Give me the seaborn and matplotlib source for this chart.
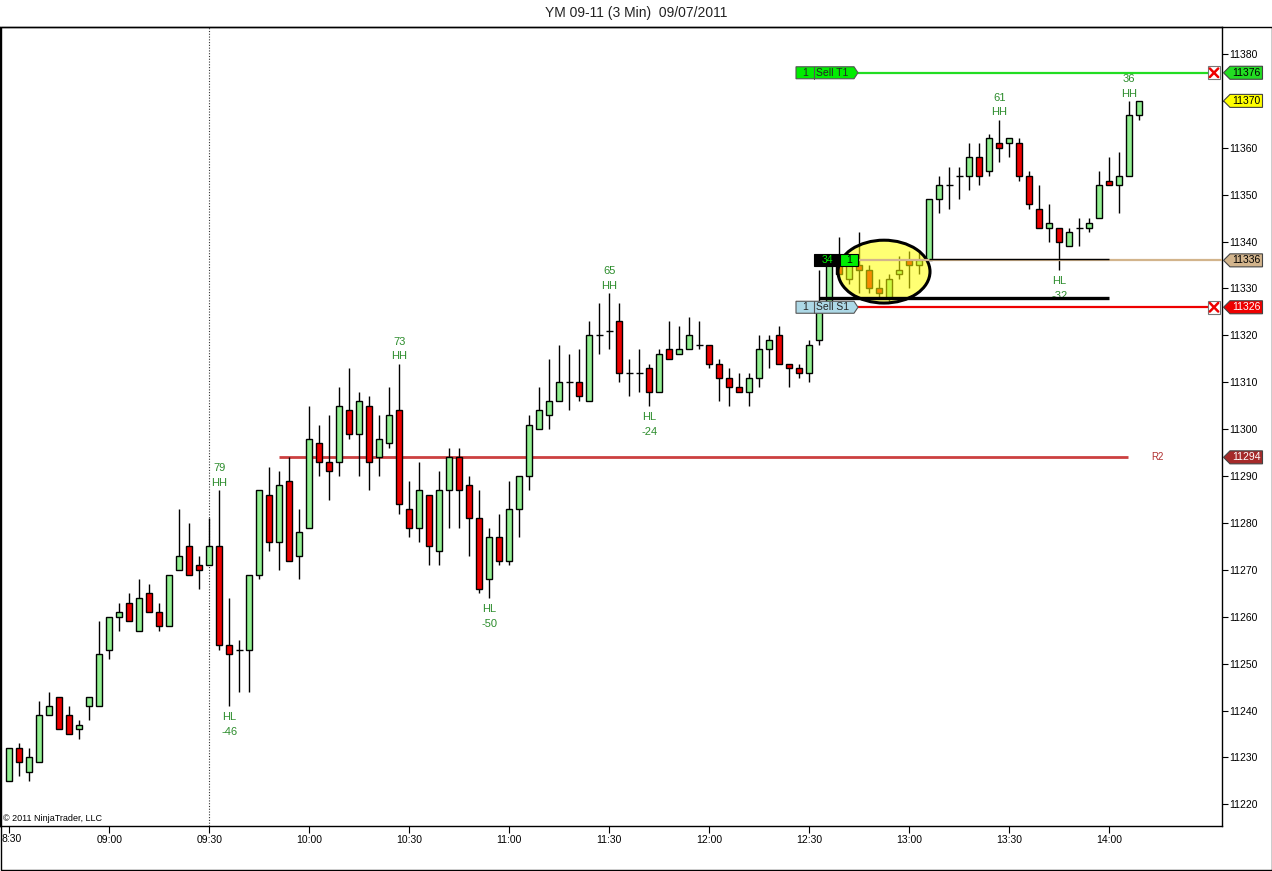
import numpy as np
import pandas as pd
import matplotlib
matplotlib.use("Agg")
import matplotlib.pyplot as plt
import seaborn as sns
from matplotlib.patches import Polygon, Rectangle, Ellipse
from matplotlib.transforms import blended_transform_factory

# ---------------- data ----------------
open_ = [11225, 11232, 11227, 11229, 11239, 11243, 11239, 11236, 11241, 11241,
         11253, 11260, 11263, 11257, 11265, 11261, 11258, 11270, 11275, 11271,
         11271, 11275, 11254, 11253, 11253, 11269, 11286, 11276, 11289, 11273,
         11279, 11297, 11293, 11293, 11304, 11299, 11305, 11294, 11297, 11304,
         11283, 11279, 11286, 11274, 11287, 11294, 11288, 11281, 11268, 11277,
         11272, 11283, 11290, 11300, 11303, 11306, 11310, 11310, 11306, 11320,
         11321, 11323, 11312, 11312, 11313, 11308, 11317, 11316, 11317, 11318,
         11318, 11314, 11311, 11309, 11308, 11311, 11317, 11320, 11314, 11313,
         11312, 11319, 11326, 11335, 11332, 11335, 11334, 11330, 11328, 11333,
         11336, 11335, 11336, 11349, 11352, 11354, 11354, 11358, 11355, 11361,
         11361, 11361, 11354, 11347, 11343, 11343, 11339, 11343, 11343, 11345,
         11353, 11352, 11354, 11367]
high = [11232, 11233, 11232, 11242, 11244, 11243, 11241, 11238, 11243, 11259,
        11260, 11263, 11265, 11268, 11267, 11263, 11269, 11283, 11280, 11273,
        11281, 11287, 11264, 11255, 11269, 11287, 11292, 11291, 11294, 11283,
        11305, 11301, 11303, 11309, 11313, 11308, 11307, 11303, 11309, 11314,
        11289, 11293, 11286, 11291, 11296, 11296, 11290, 11287, 11279, 11282,
        11289, 11290, 11303, 11309, 11315, 11318, 11316, 11317, 11323, 11327,
        11329, 11327, 11315, 11317, 11314, 11317, 11323, 11322, 11324, 11323,
        11318, 11315, 11313, 11312, 11312, 11320, 11320, 11322, 11314, 11314,
        11319, 11334, 11336, 11341, 11336, 11342, 11335, 11332, 11333, 11337,
        11338, 11338, 11349, 11354, 11356, 11356, 11361, 11361, 11363, 11366,
        11362, 11362, 11355, 11352, 11348, 11343, 11343, 11345, 11345, 11355,
        11358, 11359, 11370, 11370]
low = [11225, 11226, 11225, 11229, 11239, 11236, 11235, 11234, 11238, 11241,
       11251, 11257, 11259, 11257, 11261, 11257, 11258, 11270, 11269, 11266,
       11271, 11253, 11241, 11244, 11244, 11268, 11274, 11270, 11272, 11268,
       11279, 11290, 11285, 11290, 11298, 11290, 11287, 11290, 11296, 11282,
       11277, 11276, 11271, 11271, 11279, 11279, 11273, 11265, 11264, 11271,
       11271, 11277, 11287, 11300, 11300, 11306, 11304, 11306, 11306, 11316,
       11317, 11310, 11307, 11308, 11305, 11308, 11315, 11316, 11317, 11317,
       11313, 11306, 11305, 11308, 11305, 11309, 11313, 11314, 11309, 11311,
       11310, 11318, 11325, 11332, 11331, 11329, 11329, 11328, 11327, 11332,
       11330, 11333, 11336, 11346, 11347, 11349, 11351, 11352, 11354, 11357,
       11358, 11353, 11347, 11343, 11340, 11334, 11339, 11339, 11342, 11345,
       11352, 11346, 11354, 11366]
close = [11232, 11229, 11230, 11239, 11241, 11236, 11235, 11237, 11243, 11252,
         11260, 11261, 11259, 11264, 11261, 11258, 11269, 11273, 11269, 11270,
         11275, 11254, 11252, 11253, 11269, 11287, 11276, 11288, 11272, 11278,
         11298, 11293, 11291, 11305, 11299, 11306, 11293, 11298, 11303, 11284,
         11279, 11287, 11275, 11287, 11294, 11287, 11281, 11266, 11277, 11272,
         11283, 11290, 11301, 11304, 11306, 11310, 11310, 11307, 11320, 11320,
         11321, 11312, 11312, 11312, 11308, 11316, 11315, 11317, 11320, 11318,
         11314, 11311, 11309, 11308, 11311, 11317, 11319, 11314, 11313, 11312,
         11318, 11325, 11335, 11333, 11335, 11334, 11330, 11329, 11332, 11334,
         11335, 11336, 11349, 11352, 11352, 11354, 11358, 11354, 11362, 11360,
         11362, 11354, 11348, 11343, 11344, 11340, 11342, 11343, 11344, 11352,
         11352, 11354, 11367, 11370]

time_labels = ["8:30", "09:00", "09:30", "10:00", "10:30", "11:00", "11:30",
               "12:00", "12:30", "13:00", "13:30", "14:00"]
swing_bars = [21, 22, 39, 48, 60, 64, 99, 105, 112]
swing_values = ["79", "-46", "73", "-50", "65", "-24", "61", "-32", "36"]
swing_kinds = ["HH", "HL", "HH", "HL", "HH", "HL", "HH", "HL", "HH"]

target_price = 11376
stop_price = 11326
entry_price = 11336
stop_line_price = 11328
r2_price = 11294
last_price = 11370
ytick_values = list(range(11220, 11381, 10))
title = "YM 09-11 (3 Min)  09/07/2011"

# ---------------- style ----------------
sns.set_theme(style="white")
plt.rcParams['font.family'] = ['Liberation Sans', 'DejaVu Sans']

W, H = 1272, 871
fig = plt.figure(figsize=(W / 100, H / 100), dpi=100)
fig.patch.set_facecolor("white")
ax = fig.add_axes([0 / W, (H - 826) / H, 1222 / W, (826 - 27) / H])
ax.set_facecolor("white")

df = pd.DataFrame({"o": open_, "h": high, "l": low, "c": close})
df["i"] = np.arange(len(df))
up = df[df.c > df.o]
dn = df[df.c < df.o]
dj = df[df.c == df.o]

PXPT = 4.69  # pixels per price point
ax.set_xlim(-0.93, 121.27)
ax.set_ylim(11380 - (826 - 54) / PXPT, 11380 + (54 - 27) / PXPT)

# wicks + bodies
ax.vlines(df.i, df.l, df.h, color="black", lw=1.0, zorder=2)
ax.bar(up.i, up.c - up.o, bottom=up.o, width=0.62, color="#90EE90",
       edgecolor="black", linewidth=1.0, zorder=3)
ax.bar(dn.i, dn.o - dn.c, bottom=dn.c, width=0.62, color="#EE0000",
       edgecolor="black", linewidth=1.0, zorder=3)
ax.hlines(dj.o, dj.i - 0.35, dj.i + 0.35, color="black", lw=1.0, zorder=3)

# 9:30 dotted session line
ax.axvline(20, color="#333333", lw=0.8, ls=(0, (1, 1.5)), zorder=1)

# R2 line
ax.hlines(r2_price, 26.97, 111.87, color="#cc4040", lw=2.0, zorder=1.5)
ax.text(114.8, r2_price, "R2", color="#b03030", fontsize=7, va="center", ha="center")

# yellow ellipse
ax.add_patch(Ellipse((87.47, 11333.6), 9.2, 13.4, facecolor="#ffff00",
                     alpha=0.55, edgecolor="none", zorder=4))
ax.add_patch(Ellipse((87.47, 11333.6), 9.2, 13.4, facecolor="none",
                     edgecolor="black", lw=2.2, zorder=5))

# order lines
ax.hlines(target_price, 84.87, 119.9, color="#22dd22", lw=1.6, zorder=5)
ax.hlines(stop_price, 84.87, 119.9, color="#ee0000", lw=1.6, zorder=5)
ax.hlines(entry_price, 84.87, 121.27, color="#d2b48c", lw=1.6, zorder=5)
ax.hlines(entry_price + 0.3, 92.0, 109.97, color="black", lw=1.0, zorder=5.5)
ax.hlines(stop_line_price, 81.0, 109.97, color="black", lw=2.4, zorder=5.5)

# order label boxes
hh = 6.0 / PXPT


def order_box(y, qty, name, fc):
    x0, x1, x2, x3 = 78.67, 80.47, 84.47, 84.87
    ax.add_patch(Polygon([(x0, y - hh), (x2, y - hh), (x3, y), (x2, y + hh), (x0, y + hh)],
                         closed=True, facecolor=fc, edgecolor="#555555", lw=0.8, zorder=7))
    ax.plot([x1, x1], [y - hh, y + hh], color="#555555", lw=0.8, zorder=7.5)
    ax.text((x0 + x1) / 2, y, qty, fontsize=7.5, ha="center", va="center", zorder=8)
    ax.text(x1 + 0.15, y, name, fontsize=7.5, ha="left", va="center", zorder=8)


order_box(target_price, "1", "Sell T1", "#00ee00")
order_box(stop_price, "1", "Sell S1", "#add8e6")

# position box
ax.add_patch(Rectangle((80.47, entry_price - hh), 2.6, 2 * hh, facecolor="black",
                       edgecolor="black", lw=0.8, zorder=7))
ax.add_patch(Rectangle((83.07, entry_price - hh), 1.8, 2 * hh, facecolor="#00ee00",
                       edgecolor="black", lw=0.8, zorder=7))
ax.text(81.77, entry_price, "34", color="#00ee00", fontsize=7.5, ha="center", va="center", zorder=8)
ax.text(83.97, entry_price, "1", color="black", fontsize=7.5, ha="center", va="center", zorder=8)

# X boxes at order line ends
for yv in (target_price, stop_price):
    ax.add_patch(Rectangle((120.47 - 0.62, yv - 6.3 / PXPT), 1.24, 12.6 / PXPT,
                           facecolor="white", edgecolor="#777777", lw=0.8, zorder=7))
    ax.plot([120.47 - 0.42, 120.47 + 0.42], [yv - 4.3 / PXPT, yv + 4.3 / PXPT],
            color="#ee0000", lw=1.8, zorder=8)
    ax.plot([120.47 - 0.42, 120.47 + 0.42], [yv + 4.3 / PXPT, yv - 4.3 / PXPT],
            color="#ee0000", lw=1.8, zorder=8)

# swing labels
for b, v, k in zip(swing_bars, swing_values, swing_kinds):
    if k == "HH":
        y = high[b]
        ax.annotate(k, (b, y), xytext=(0, 7.2 / 1.389), textcoords="offset points",
                    ha="center", va="center", fontsize=8, color="#2b8c2b", zorder=6)
        ax.annotate(v, (b, y), xytext=(0, 22 / 1.389), textcoords="offset points",
                    ha="center", va="center", fontsize=8, color="#2b8c2b", zorder=6)
    else:
        y = low[b]
        ax.annotate(k, (b, y), xytext=(0, -11 / 1.389), textcoords="offset points",
                    ha="center", va="center", fontsize=8, color="#2b8c2b", zorder=4.5)
        ax.annotate(v, (b, y), xytext=(0, -26 / 1.389), textcoords="offset points",
                    ha="center", va="center", fontsize=8, color="#2b8c2b", zorder=4.5)

# axes ticks (the last-price marker covers the 11370 label)
ax.yaxis.tick_right()
ax.set_yticks(ytick_values)
ax.set_yticklabels(["" if v == last_price else str(v) for v in ytick_values])
ax.set_xticks(list(range(0, 10 * len(time_labels), 10)))
ax.set_xticklabels([""] + time_labels[1:])
ax.tick_params(axis="y", which="both", right=True, left=False, direction="out",
               length=4, width=0.8, pad=1.2, labelsize=7.5, colors="black")
ax.tick_params(axis="x", which="both", bottom=True, top=False, direction="out",
               length=5, width=0.8, pad=1.5, labelsize=7.5, colors="black")
# first time label sits against the left edge
ax.text(2 / 1222, -12.5 / 799, time_labels[0], transform=ax.transAxes, fontsize=7.5,
        ha="left", va="center", color="black", clip_on=False)
for s in ax.spines.values():
    s.set_color("black")
    s.set_linewidth(1.0)
    s.set_visible(True)
ax.grid(False)

# price markers on the axis
bt = blended_transform_factory(ax.transAxes, ax.transData)
mh = 6.5 / PXPT


def price_marker(y, fc, tc):
    xa, xb, xc = 1223.5 / 1222, 1230.0 / 1222, 1262.5 / 1222
    p = Polygon([(xa, y), (xb, y + mh), (xc, y + mh), (xc, y - mh), (xb, y - mh)],
                closed=True, transform=bt, facecolor=fc, edgecolor="#444444", lw=0.8,
                clip_on=False, zorder=20)
    ax.add_patch(p)
    ax.text(1246.5 / 1222, y, str(y), transform=bt, fontsize=7.5, color=tc,
            ha="center", va="center", clip_on=False, zorder=21)


price_marker(target_price, "#22dd22", "black")
price_marker(last_price, "#ffff00", "black")
price_marker(entry_price, "#d2b48c", "black")
price_marker(stop_price, "#ee0000", "white")
price_marker(r2_price, "#a52a2a", "white")

# copyright and title
ax.text(3 / 1222, (826 - 818) / 799, "\u00a9 2011 NinjaTrader, LLC", transform=ax.transAxes,
        fontsize=6.5, ha="left", va="center", color="black")
fig.text(0.5, 1 - 13 / H, title, ha="center", va="center", fontsize=10, color="#222222")

# outer frame
fig.add_artist(Rectangle((0.5 / W, 1.5 / H), (W - 1) / W, (H - 27 - 1.5) / H,
                         transform=fig.transFigure, fill=False, edgecolor="black", lw=1.0))

fig.savefig("out.png", dpi=100, facecolor="white")
